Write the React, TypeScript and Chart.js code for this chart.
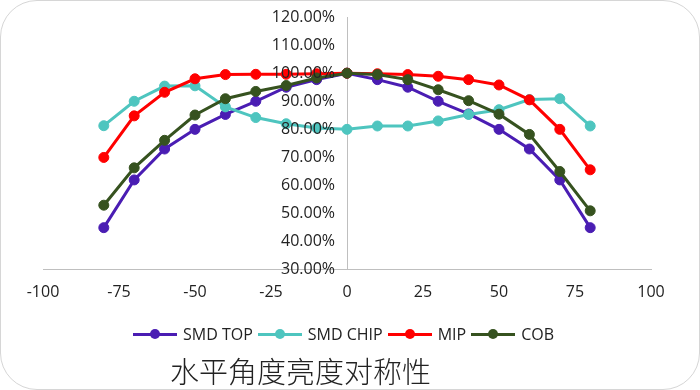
import React, { useEffect, useRef } from 'react';
import { Chart, registerables } from 'chart.js';

Chart.register(...registerables);

const angles = [-80, -70, -60, -50, -40, -30, -20, -10, 0, 10, 20, 30, 40, 50, 60, 70, 80];
const smdTop = [45, 62, 73, 80, 85.3, 90, 95, 97.7, 100, 97.7, 95, 90, 85.5, 80, 73, 62, 45];
const smdChip = [81.3, 90, 95.4, 95.5, 88, 84.2, 82, 80.5, 80, 81.2, 81.2, 83, 85.3, 87, 90.6, 90.9, 81.2];
const mip = [70, 84.8, 93.2, 98, 99.5, 99.6, 99.6, 99.8, 100, 99.8, 99.5, 98.9, 97.7, 95.8, 90.5, 80, 65.6];
const cob = [53, 66.3, 76.1, 85.1, 90.9, 93.5, 95.6, 98.3, 100, 99.5, 97.7, 94.1, 90.2, 85.4, 78.2, 65, 51];

const seriesNames = ['SMD TOP', 'SMD CHIP', 'MIP', 'COB'];
const seriesValues = [smdTop, smdChip, mip, cob];
const seriesColors = ['#4a1db3', '#4ec5bf', '#ff0000', '#36521f'];

const xTickStep = 25;
const yTickStep = 10;
const titleText = '水平角度亮度对称性';

const FONT = '"Open Sans", "Noto Sans", sans-serif';
const TICK_COLOR = '#222';
const Y_LABEL_GAP = 12;

const yLabelPlugin = {
  id: 'yLabelPlugin',
  afterDraw(chart: any) {
    const y = chart.scales.y;
    const x = chart.scales.x;
    if (!y || !x) return;
    const ctx = chart.ctx;
    const axisX = x.getPixelForValue(0);
    ctx.save();
    ctx.font = `16px ${FONT}`;
    ctx.fillStyle = TICK_COLOR;
    ctx.textAlign = 'right';
    ctx.textBaseline = 'middle';
    y.ticks.forEach((t: any) => {
      const label = Number(t.value).toFixed(2) + '%';
      ctx.fillText(label, axisX - Y_LABEL_GAP, y.getPixelForValue(t.value));
    });
    ctx.restore();
  },
};

export default function App() {
  const ref = useRef<HTMLCanvasElement>(null);

  useEffect(() => {
    const tickFont = { family: FONT, size: 16 };
    const chart = new Chart(ref.current as HTMLCanvasElement, {
      type: 'line',
      data: {
        datasets: seriesNames.map((name, i) => ({
          label: name,
          data: angles.map((a, j) => ({ x: a, y: seriesValues[i][j] })),
          borderColor: seriesColors[i],
          backgroundColor: seriesColors[i],
          pointBackgroundColor: seriesColors[i],
          pointBorderColor: seriesColors[i],
          pointRadius: 5,
          pointBorderWidth: 1,
          borderWidth: 3,
          tension: 0,
          fill: false,
          order: seriesNames.length - i,
        })),
      },
      options: {
        animation: false,
        responsive: false,
        maintainAspectRatio: false,
        layout: { padding: { left: 43, right: 49, top: 17, bottom: 75 } },
        plugins: {
          legend: { display: false },
          tooltip: { enabled: false },
          title: { display: false },
        },
        scales: {
          x: {
            type: 'linear',
            min: -100,
            max: 100,
            ticks: {
              stepSize: xTickStep,
              padding: 13,
              font: tickFont,
              color: TICK_COLOR,
              maxRotation: 0,
            },
            grid: { display: true, drawOnChartArea: false, drawTicks: false },
            border: { display: true, color: '#bfbfbf', width: 1 },
          },
          y: {
            type: 'linear',
            position: 'center',
            min: 30,
            max: 120,
            ticks: {
              stepSize: yTickStep,
              font: tickFont,
              color: 'rgba(0,0,0,0)',
              callback: (v: any) => Number(v).toFixed(2) + '%',
            },
            grid: { display: true, drawOnChartArea: false, drawTicks: false },
            border: { display: true, color: '#bfbfbf', width: 1 },
          },
        },
      },
      plugins: [yLabelPlugin],
    });
    return () => chart.destroy();
  }, []);

  return (
    <div
      style={{
        position: 'fixed',
        left: 0,
        top: 0,
        width: 700,
        height: 390,
        background: '#fff',
        overflow: 'hidden',
      }}
    >
      <div
        style={{
          position: 'absolute',
          left: 0,
          top: 0,
          width: 698,
          height: 388,
          border: '1px solid #d6d6d6',
          borderRadius: 37,
        }}
      />
      <canvas ref={ref} width={700} height={390} style={{ position: 'absolute', left: 0, top: 0 }} />
      <div
        style={{
          position: 'absolute',
          left: 133,
          top: 322,
          height: 24,
          display: 'flex',
          alignItems: 'center',
          fontFamily: FONT,
          fontSize: 16,
          color: '#222',
          whiteSpace: 'nowrap',
        }}
      >
        {seriesNames.map((name, i) => (
          <div key={name} style={{ display: 'flex', alignItems: 'center', marginRight: 5 }}>
            <div style={{ position: 'relative', width: 44, height: 12, marginRight: 6 }}>
              <div
                style={{
                  position: 'absolute',
                  left: 0,
                  top: 4.5,
                  width: 44,
                  height: 3,
                  background: seriesColors[i],
                }}
              />
              <div
                style={{
                  position: 'absolute',
                  left: 17,
                  top: 1,
                  width: 10,
                  height: 10,
                  borderRadius: 5,
                  background: seriesColors[i],
                }}
              />
            </div>
            <span>{name}</span>
          </div>
        ))}
      </div>
      <div
        style={{
          position: 'absolute',
          left: 170,
          top: 354,
          fontFamily: '"Noto Sans CJK SC", sans-serif',
          fontSize: 29,
          lineHeight: '32px',
          fontWeight: 300,
          color: '#222',
          whiteSpace: 'nowrap',
        }}
      >
        {titleText}
      </div>
    </div>
  );
}
